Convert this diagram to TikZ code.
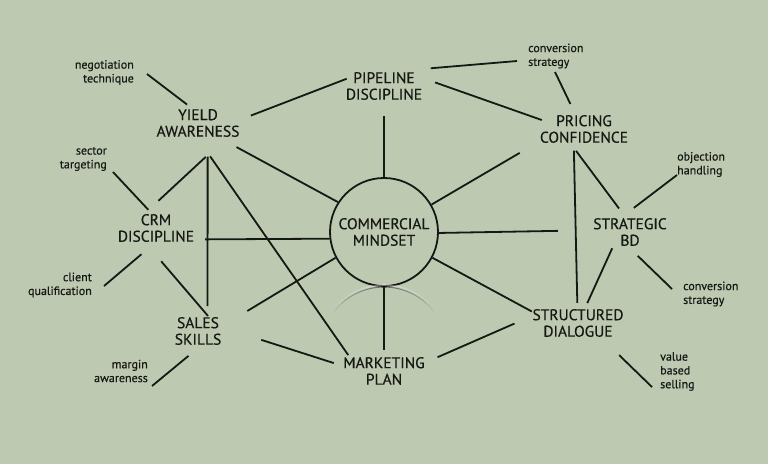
\documentclass[tikz,border=0pt]{standalone}
\usepackage{fontspec}
\setmainfont{PT Sans}[FakeBold=0.5]
\usepackage{tikz}
\usetikzlibrary{shapes.geometric}
\definecolor{sage}{RGB}{189,201,177}
\definecolor{ink}{RGB}{22,24,20}

\begin{document}
\begin{tikzpicture}[
  x=1pt, y=-1pt,
  every node/.style={text=ink},
  hub/.style 2 args={ellipse, inner xsep=-30pt, inner ysep=-12pt, align=center,
    minimum width=#1, minimum height=#2, font=\fontsize{15.5pt}{16.5pt}\selectfont},
  leaf/.style ={inner sep=0pt, font=\fontsize{12pt}{13.8pt}\selectfont},
  leafl/.style={leaf, anchor=east, align=right},
  leafr/.style={leaf, anchor=west, align=left},
  link/.style ={draw=ink, line width=1.8pt}]

\fill[sage] (0,0) rectangle (768,464);
\useasboundingbox (0,0) rectangle (768,464);

% ---------------------------- the hub ---------------------------------
\node[draw=ink, line width=1.8pt, circle, minimum size=108pt, inner sep=0pt,
  align=center, font=\fontsize{15.5pt}{16.5pt}\selectfont]
  (commercial) at (384,232) {COMMERCIAL\\MINDSET};

% its reflection, fading out at both ends
\foreach \a [evaluate=\a as \op using {0.75*(1-abs(\a+2-270)/56)}] in {216,220,...,320}{
  \draw[black!75, line width=1pt, opacity=\op] (384,350) ++(\a:63) arc (\a:\a+4:63);
  \draw[white, line width=1.4pt, opacity=0.5*\op] (384,350) ++(\a:65) arc (\a:\a+4:65);}

% --------------------------- main topics ------------------------------
\node[hub={92pt}{60pt}]   (pipeline)   at (384,86)  {PIPELINE\\DISCIPLINE};
\node[hub={108pt}{68pt}]  (yield)      at (198,123) {YIELD\\AWARENESS};
\node[hub={92pt}{44pt}]   (pricing)    at (584,129) {PRICING\\CONFIDENCE};
\node[hub={108pt}{54pt}]  (crm)        at (156,228) {CRM\\DISCIPLINE};
\node[hub={92pt}{48pt}]   (strategic)  at (630,232) {STRATEGIC\\BD};
\node[hub={120pt}{50pt}]  (sales)      at (198,331) {SALES\\SKILLS};
\node[hub={112pt}{40pt}]  (structured) at (578,323) {STRUCTURED\\DIALOGUE};
\node[hub={108pt}{42pt}]  (marketing)  at (384,371) {MARKETING\\PLAN};

% ---------------------------- side notes ------------------------------
\node[leafl] (negotiation) at (134,72.5) {negotiation\\technique};
\node[leafl] (sector)      at (107,159)  {sector\\targeting};
\node[leafl] (client)      at (92,285)   {client\\qualification};
\node[leafl] (margin)      at (148,371)  {margin\\awareness};
\node[leafr] (convtop)     at (528,56)   {conversion\\strategy};
\node[leafr] (objection)   at (677,164.5){objection\\handling};
\node[leafr] (convright)   at (683,294)  {conversion\\strategy};
\node[leafr] (value)       at (660,371.5){value\\based\\selling};

% ------------------------------ spokes --------------------------------
\draw[link] (commercial.90)    -- (pipeline.-90);
\draw[link] (commercial.147)   -- (yield.-32.7);
\draw[link] (commercial.187.4) -- (crm.-13);
\draw[link, shorten >=5.8pt] (commercial.208.9) -- (sales.21.1);
\draw[link] (commercial.-90)   -- (marketing.90);
\draw[link] (commercial.-28)   -- (structured.166.3);
\draw[link, shorten >=26pt] (commercial.-1)  -- (strategic.178.3);
\draw[link, shorten >=27pt] (commercial.30.3) -- (pricing.194.5);

% ------------------------- between the topics -------------------------
\draw[link, shorten >=-9pt] (yield.8.6) -- (pipeline.175.4);
\draw[link] (yield.-77.7) -- (crm.85);
\draw[link] (yield.-74.1) -- (sales.69.4);
\draw[link] (yield.-70.6) -- (marketing.156.6);
\draw[link, shorten <=8pt, shorten >=-13.4pt] (crm.-90.4) -- (sales.87);
\draw[link, shorten <=5.8pt] (sales.-7.2) -- (marketing.171.5);
\draw[link, shorten <=7.5pt, shorten >=8.7pt] (marketing.13.4) -- (structured.177.5);
\draw[link, shorten <=6.1pt] (pipeline.7.7) -- (pricing.168.4);
\draw[link] (pricing.-115.3) -- (structured.92.9);
\draw[link] (pricing.-110.2) -- (strategic.115.6);
\draw[link, shorten <=-6pt] (strategic.-133.6) -- (structured.65.8);

% --------------------------- to the notes -----------------------------
\draw[link, shorten >=-19pt] ([xshift=13pt,yshift=-1.5pt]negotiation.east) -- (yield.131.3);
\draw[link, shorten >=-10.8pt] ([xshift=6pt,yshift=-13pt]sector.east) -- (crm.120.6);
\draw[link] ([xshift=12pt,yshift=-1pt]client.east) -- (crm.-119.7);
\draw[link] ([xshift=4pt,yshift=-15pt]margin.east) -- (sales.-111);
\draw[link, shorten <=8.6pt] (pipeline.24.8) -- ([xshift=-11pt,yshift=-5pt]convtop.west);
\draw[link, shorten >=4pt] ([xshift=27pt,yshift=-16pt]convtop.west) -- (pricing.119.9);
\draw[link] ([yshift=-10.5pt]objection.west) -- (strategic.81.9);
\draw[link] (strategic.-72.9) -- ([xshift=-11pt,yshift=5pt]convright.west);
\draw[link, shorten <=20.5pt] (structured.-34.1) -- ([xshift=-8pt,yshift=-15.5pt]value.west);

\end{tikzpicture}
\end{document}
